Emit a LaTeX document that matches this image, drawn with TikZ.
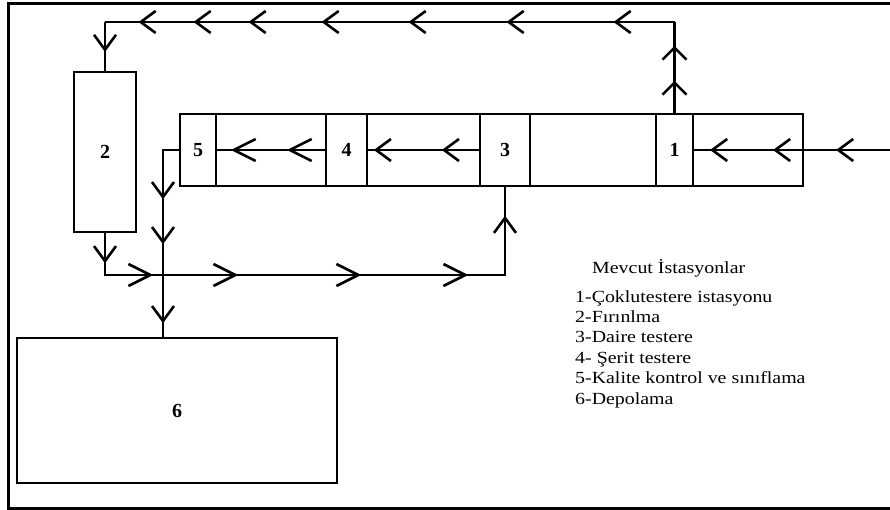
\documentclass[tikz,border=0pt]{standalone}
\usepackage{fontspec}
\setmainfont{Liberation Serif}
\newfontfamily\legendfont{Liberation Serif}[FakeStretch=1.17]
\usetikzlibrary{arrows.meta,decorations.markings}

\tikzset{
  chev/.tip={Straight Barb[length=15pt,width=22pt,line width=2.6pt]},
  chevl/.tip={Straight Barb[length=22pt,width=22pt,line width=2.6pt]},
  chevw/.tip={Straight Barb[length=12pt,width=24pt,line width=2.6pt]},
}

\begin{document}
\begin{tikzpicture}[
  x=1pt, y=-1pt,
  cell/.style={draw, line width=2.4pt, minimum height=72pt, inner sep=0pt,
               font=\fontsize{20}{20}\selectfont\bfseries},
  box/.style={draw, line width=2.6pt, inner sep=0pt,
              font=\fontsize{20}{20}\selectfont\bfseries},
  flow/.style={line width=2.4pt},
  mk/.style={postaction={decorate, decoration={markings,
             mark=at position #1 with {\arrow{chev}}}}},
  mkl/.style={postaction={decorate, decoration={markings,
              mark=at position #1 with {\arrow{chevl}}}}},
  mkw/.style={postaction={decorate, decoration={markings,
              mark=at position #1 with {\arrow{chevw}}}}},
  legend/.style={inner sep=0pt, anchor=base west, align=left,
                 font=\legendfont\fontsize{17}{20.4}\selectfont},
]
\useasboundingbox (0,0) rectangle (890,510);
\clip (0,0) rectangle (890,510);
\draw[line width=3pt] (8,4) rectangle (905,508);

% stations
\node[box, minimum width=62pt, minimum height=160pt] (box2) at (105,152) {2};
\node[box, minimum width=320pt, minimum height=145pt] (box6) at (177,410.5) {6};

\foreach \name/\cx/\w/\txt in {st5/198/36/5, gap54/271/110/, st4/346.5/41/4,
    gap43/423.5/113/, st3/505/50/3, gap31/593/126/, st1/674.5/37/1, gapin/748/110/}
  \node[cell, minimum width=\w pt] (\name) at (\cx,150) {\txt};

\coordinate (in) at (895,150);
\coordinate (tl) at (105,22);
\coordinate (tr) at (st1.north |- tl);
\coordinate (k1) at (105,275);
\coordinate (k2) at (st3.south |- k1);
\coordinate (k3) at (163,150);

% material flow
\draw[flow, mk/.list={59pt,122pt,185pt}] (in) -- (st1.east);
\draw[flow, mkw/.list={32pt,67pt}] (st1.north) -- (tr);
\draw[flow, mk/.list={61pt,168pt,266pt,353pt,426pt,481pt,536pt}] (tr) -- (tl);
\draw[flow, mk=30pt] (tl) -- (box2.north);
\draw[flow, mk=30pt, mkl/.list={90pt,175pt,298pt,405pt}, mk=501pt]
  (box2.south) -- (k1) -- (k2) -- (st3.south);
\draw[flow, mk/.list={65pt,110pt,189pt}] (st5.west) -- (k3) -- (k3 |- box6.north);
\draw[flow, mkl/.list={38pt,94pt}] (st4.west) -- (st5.east);
\draw[flow, mk/.list={37pt,105pt}] (st3.west) -- (st4.east);

% legend
\node[legend] (title) at (592,273) {Mevcut İstasyonlar};
\node[legend] (list) at (575,404) {1-Çoklutestere istasyonu\\2-Fırınlma\\3-Daire testere\\4- Şerit testere\\5-Kalite kontrol ve sınıflama\\6-Depolama};
\end{tikzpicture}
\end{document}
